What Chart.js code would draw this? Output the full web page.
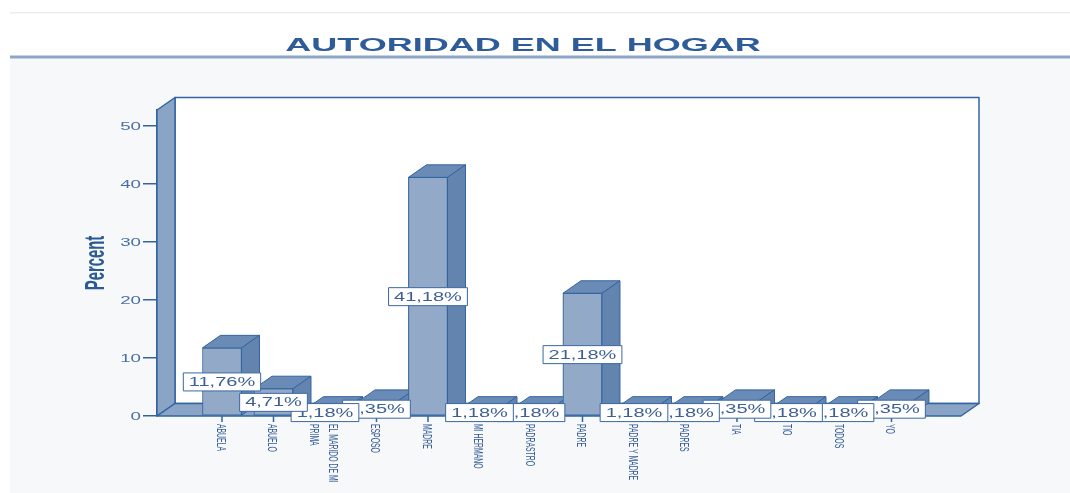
<!DOCTYPE html>
<html>
<head>
<meta charset="utf-8">
<script src="https://cdn.jsdelivr.net/npm/chart.js@4.4.1/dist/chart.umd.min.js"></script>
<style>
  html, body { margin: 0; padding: 0; background: #fff; }
</style>
</head>
<body>
<canvas id="chart" width="1070" height="493"></canvas>
<script>
const categories = ['ABUELA', 'ABUELO', ['EL MARIDO DE MI', 'PRIMA'], 'ESPOSO', 'MADRE', 'MI HERMANO',
  'PADRASTRO', 'PADRE', 'PADRE Y MADRE', 'PADRES', 'TIA', 'TIO', 'TODOS', 'YO']
const percents = [11.76, 4.71, 1.18, 2.35, 41.18, 1.18, 1.18, 21.18, 1.18, 1.18, 2.35, 1.18, 1.18, 2.35]
const yTicks = [0, 10, 20, 30, 40, 50]
const chartTitle = 'AUTORIDAD EN EL HOGAR'
const yTitle = 'Percent'

const DX = 18, DY = 12.5
const blue = '#33649f'
const font = '"Liberation Sans", Arial, sans-serif'

const fmt = v => v.toFixed(2).replace('.', ',') + '%'

const poly = (ctx, pts, fill) => {
  ctx.beginPath()
  ctx.moveTo(pts[0][0], pts[0][1])
  for (let i = 1; i < pts.length; i++) ctx.lineTo(pts[i][0], pts[i][1])
  ctx.closePath()
  ctx.fillStyle = fill
  ctx.fill()
  ctx.stroke()
}

const frame3d = {
  id: 'frame3d',
  beforeDraw(chart) {
    const ctx = chart.ctx
    ctx.save()
    ctx.fillStyle = '#fff'
    ctx.fillRect(0, 0, chart.width, chart.height)
    ctx.fillStyle = '#ededed'
    ctx.fillRect(10, 12, 1060, 1.5)
    ctx.fillStyle = '#f7f8fa'
    ctx.fillRect(10, 58, 1060, 435)
    ctx.fillStyle = '#8ea6c6'
    ctx.fillRect(10, 55.5, 1060, 3)
    // title
    ctx.fillStyle = '#2d5c98'
    ctx.font = 'bold 18px ' + font
    ctx.textAlign = 'center'
    ctx.textBaseline = 'alphabetic'
    ctx.translate(523, 51)
    ctx.scale(2, 1)
    ctx.fillText(chartTitle, 0, 0)
    ctx.restore()
  },
  beforeDatasetsDraw(chart) {
    const ctx = chart.ctx
    const { left: L, right: R, top: T, bottom: B } = chart.chartArea
    ctx.save()
    ctx.strokeStyle = blue
    ctx.lineWidth = 1.5
    ctx.lineJoin = 'round'
    // back wall
    ctx.fillStyle = '#fff'
    ctx.fillRect(L + DX, T - DY, R - L, B - T)
    ctx.strokeRect(L + DX, T - DY, R - L, B - T)
    // left wall
    poly(ctx, [[L, B], [L + DX, B - DY], [L + DX, T - DY], [L, T]], '#8aa4c5')
    // floor
    poly(ctx, [[L, B], [R, B], [R + DX, B - DY], [L + DX, B - DY]], '#8aa4c5')

    // y tick labels
    const ys = chart.scales.y
    ctx.fillStyle = '#4a6fa5'
    ctx.font = '11px ' + font
    ctx.textAlign = 'right'
    ctx.textBaseline = 'middle'
    ys.ticks.forEach(t => {
      ctx.save()
      ctx.translate(141, ys.getPixelForValue(t.value) + 0.5)
      ctx.scale(1.7, 1)
      ctx.fillText(String(t.value), 0, 0)
      ctx.restore()
    })
    // y title
    ctx.save()
    ctx.fillStyle = '#2b5a94'
    ctx.font = 'bold 27px ' + font
    ctx.textAlign = 'center'
    ctx.textBaseline = 'middle'
    ctx.translate(97, 263)
    ctx.rotate(-Math.PI / 2)
    ctx.scale(0.55, 1)
    ctx.fillText(yTitle, 0, 0)
    ctx.restore()
    ctx.restore()
  },
  afterDatasetsDraw(chart) {
    const ctx = chart.ctx
    const bars = chart.getDatasetMeta(0).data
    const xs = chart.scales.x, ys = chart.scales.y
    const B = chart.chartArea.bottom
    ctx.save()
    ctx.strokeStyle = blue
    ctx.lineWidth = 1
    ctx.lineJoin = 'round'
    bars.forEach((bar, i) => {
      const { x, y, base, width } = bar.getProps(['x', 'y', 'base', 'width'])
      const l = x - width / 2, r = x + width / 2
      poly(ctx, [[l, y], [r, y], [r + DX, y - DY], [l + DX, y - DY]], '#6a8bb6')
      poly(ctx, [[r, y], [r + DX, y - DY], [r + DX, base - DY], [r, base]], '#6484b0')
      if (bars[i + 1]) bars[i + 1].draw(ctx)
    })

    // category ticks and labels
    ctx.strokeStyle = blue
    ctx.lineWidth = 1.5
    ctx.fillStyle = '#355d9a'
    ctx.font = '12px ' + font
    ctx.textAlign = 'left'
    ctx.textBaseline = 'middle'
    categories.forEach((c, i) => {
      const px = xs.getPixelForValue(i)
      ctx.beginPath()
      ctx.moveTo(px, B)
      ctx.lineTo(px, B + 6)
      ctx.stroke()
      const lines = Array.isArray(c) ? c : [c]
      ctx.save()
      ctx.translate(px, B + 8)
      ctx.rotate(Math.PI / 2)
      ctx.scale(0.57, 1)
      lines.forEach((s, k) => {
        ctx.fillText(s, 0, (k - (lines.length - 1) / 2) * 19 + 2)
      })
      ctx.restore()
    })

    // value labels, right to left so left ones stay on top
    ctx.font = '12.5px ' + font
    ctx.textAlign = 'center'
    ctx.lineWidth = 1
    for (let i = percents.length - 1; i >= 0; i--) {
      const v = percents[i]
      const px = xs.getPixelForValue(i)
      const py = ys.getPixelForValue(v / 2)
      const txt = fmt(v)
      const w = ctx.measureText(txt).width * 1.6 + 11
      ctx.fillStyle = '#fff'
      ctx.fillRect(px - w / 2, py - 9, w, 18)
      ctx.strokeStyle = '#3a68a2'
      ctx.strokeRect(px - w / 2, py - 9, w, 18)
      ctx.save()
      ctx.fillStyle = '#3d5f93'
      ctx.translate(px, py + 0.5)
      ctx.scale(1.6, 1)
      ctx.fillText(txt, 0, 0)
      ctx.restore()
    }
    ctx.restore()
  }
}

new Chart(document.getElementById('chart'), {
  type: 'bar',
  data: {
    datasets: [{
      label: yTitle,
      data: percents.map((v, i) => ({ x: i, y: v })),
      backgroundColor: '#93a9c8',
      borderColor: blue,
      borderWidth: 1,
      borderSkipped: false,
      barThickness: 39
    }]
  },
  options: {
    responsive: false,
    animation: false,
    devicePixelRatio: 1,
    layout: { padding: { left: 0, right: 109, top: 110, bottom: 77 } },
    plugins: { legend: { display: false }, tooltip: { enabled: false } },
    scales: {
      x: { type: 'linear', min: -1.262, max: 14.35, offset: false, display: false },
      y: {
        min: 0,
        max: 52.8,
        afterFit(s) { s.width = 157 },
        afterBuildTicks(s) { s.ticks = yTicks.map(v => ({ value: v })) },
        ticks: { display: false },
        grid: { drawOnChartArea: false, drawTicks: true, tickLength: 14, color: blue, lineWidth: 1.5 },
        border: { display: true, color: blue, width: 1.5 }
      }
    }
  },
  plugins: [frame3d]
})
</script>
</body>
</html>
